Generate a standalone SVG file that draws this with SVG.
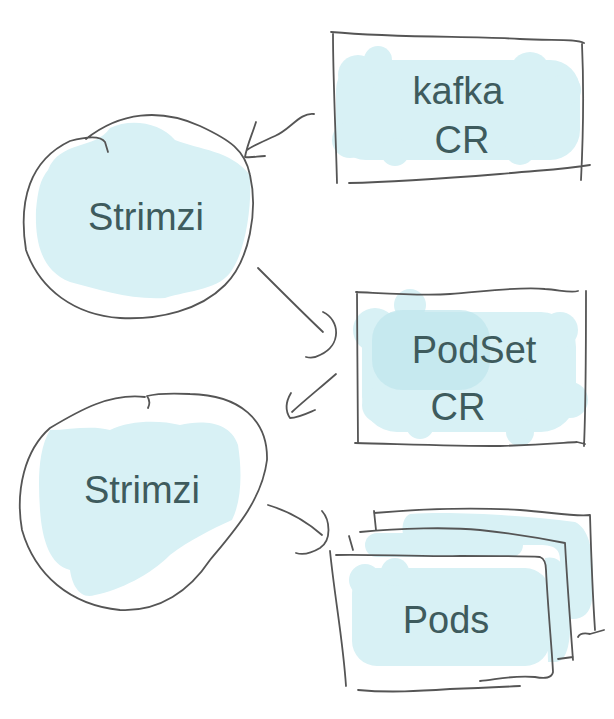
<svg xmlns="http://www.w3.org/2000/svg" width="614" height="719" viewBox="0 0 614 719">
<style>
.ink{fill:none;stroke:#555;stroke-width:1.8;stroke-linecap:round;stroke-linejoin:round}
.blob{fill:#d8f1f5;stroke:none}
.blob2{fill:#bfe6ec;stroke:none;opacity:0.7}
.lbl{font-family:"Liberation Sans","DejaVu Sans",sans-serif;font-size:38px;fill:#3e5b5d;text-anchor:middle;font-weight:normal}
</style>
<rect width="614" height="719" fill="#fff"/>

<g id="kafka-cr">
  <g class="blob">
    <rect x="336" y="60" width="244" height="100" rx="30"/>
    <circle cx="358" cy="75" r="20"/><circle cx="378" cy="60" r="14"/><circle cx="530" cy="72" r="20"/><circle cx="565" cy="90" r="16"/>
    <circle cx="350" cy="140" r="18"/><circle cx="395" cy="152" r="14"/><circle cx="520" cy="150" r="15"/>
  </g>
  <path class="ink" d="M331,32 C400,38 470,36 520,39 C550,41 575,38 584,43 M582,44 C584,90 583,140 581,180 M333,34 C333,80 336,140 337,183 M349,183 C400,182 450,178 500,174 C540,170 560,170 590,165"/>
  <text class="lbl" x="458" y="104">kafka</text>
  <text class="lbl" x="462" y="153">CR</text>
</g>

<g id="strimzi-1">
  <g class="blob">
    <path d="M48,170 C60,140 95,150 110,128 C130,118 160,122 175,140 C200,150 230,150 250,175 C252,210 245,250 232,270 C220,290 190,290 165,298 C130,300 100,290 70,282 C40,270 35,240 36,210 C38,190 40,180 48,170 Z"/>
  </g>
  <path class="ink" d="M86,139 C120,112 160,108 200,126 C230,140 245,150 250,175 C258,210 250,260 225,285 C200,310 160,320 120,318 C75,315 40,290 26,250 C18,200 30,160 70,141 C85,137 100,135 105,142 L108,152"/>
  <text class="lbl" x="146" y="230">Strimzi</text>
</g>

<g id="podset-cr">
  <g class="blob">
    <rect x="362" y="312" width="214" height="120" rx="35"/>
    <circle cx="375" cy="330" r="22"/><circle cx="410" cy="305" r="16"/><circle cx="560" cy="330" r="18"/><circle cx="570" cy="400" r="18"/><circle cx="380" cy="405" r="18"/><circle cx="420" cy="425" r="14"/><circle cx="520" cy="432" r="14"/>
  </g>
  <g class="blob2">
    <rect x="372" y="310" width="118" height="80" rx="30"/>
  </g>
  <path class="ink" d="M356,292 C380,293 420,296 450,294 C480,292 520,286 545,289 C560,290 570,293 578,291 M586,291 C586,340 586,400 584,446 M357,292 C357,340 358,400 358,443 M355,443 C400,444 450,446 500,446 C540,445 560,443 577,442 L585,444"/>
  <text class="lbl" x="474" y="363">PodSet</text>
  <text class="lbl" x="458" y="420">CR</text>
</g>

<g id="strimzi-2">
  <g class="blob">
    <path d="M50,430 C70,430 90,425 110,430 C130,420 160,420 180,425 C200,420 230,420 238,445 C242,470 242,500 232,520 C210,530 190,540 170,555 C150,575 120,590 95,595 C80,600 72,585 70,570 C50,565 42,540 40,510 C38,480 38,450 50,430 Z"/>
  </g>
  <path class="ink" d="M145,397 C110,393 80,410 50,428 C25,450 15,490 22,530 C35,575 70,605 120,610 C160,612 190,590 210,560 C235,530 262,500 267,460 C268,420 240,395 190,394 C170,393 155,394 147,396 C150,400 150,404 148,408"/>
  <text class="lbl" x="142" y="503">Strimzi</text>
</g>

<g id="pods">
  <g class="blob">
    <path d="M410,514 C450,511 520,515 575,522 C592,530 595,560 592,600 C590,615 580,622 565,618 L560,560 C560,550 555,545 540,545 L410,545 C400,540 400,518 410,514 Z"/>
    <rect x="365" y="533" width="158" height="24" rx="12"/>
    <path d="M545,558 C560,555 568,565 570,600 C572,640 568,662 555,662 L548,662 Z"/>
    <rect x="352" y="568" width="198" height="98" rx="25"/>
    <circle cx="365" cy="580" r="16"/><circle cx="395" cy="572" r="14"/>
  </g>
  <path class="ink" d="M374,513 C420,509 470,507 520,510 C550,512 575,517 590,515 M590,515 C591,550 593,600 595,630 M374,511 L376,530 M604,630 L590,634 C585,633 580,633 578,637"/>
  <path class="ink" d="M360,532 C400,528 450,527 480,530 C520,534 550,540 565,543 M565,543 C567,580 570,620 573,660 M349,536 L353,550 M558,659 L573,657"/>
  <path class="ink" d="M336,555 C370,554 420,557 460,556 C500,556 525,556 540,557 C545,559 546,565 546,570 C548,610 552,650 553,672 C552,678 545,679 535,677 C510,675 495,680 480,681 M330,551 C335,600 343,640 346,686 M358,690 C390,693 420,691 450,689 C480,688 500,687 520,686"/>
  <text class="lbl" x="446" y="633">Pods</text>
</g>

<g id="connectors">
  <path class="ink" d="M314,114 C300,112 290,130 275,136 C262,142 252,146 247,150 M256,122 C252,135 247,145 245,157 C252,158 258,156 265,156"/>
  <path class="ink" d="M258,268 C280,290 305,315 323,332 M323,312 C340,320 342,345 320,355 C315,358 310,358 306,357"/>
  <path class="ink" d="M336,374 C320,388 305,400 292,412 M291,393 C285,403 286,412 290,418 C298,418 308,413 315,410"/>
  <path class="ink" d="M268,505 C285,510 305,520 322,535 M322,511 C330,520 332,540 320,548 C310,554 302,555 296,553"/>
</g>
</svg>
